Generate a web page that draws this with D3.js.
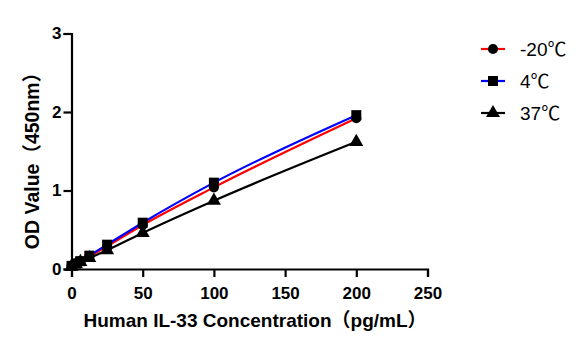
<!DOCTYPE html>
<html><head><meta charset="utf-8">
<script src="https://cdn.jsdelivr.net/npm/d3@7"></script>
<style>body{margin:0;background:#fff}svg{display:block}</style>
</head><body><div id="c"></div>
<script>
const concentrations = [0, 3.125, 6.25, 12.5, 25, 50, 100, 200];
const seriesNames = ["-20℃", "4℃", "37℃"];
const valsNeg20 = [0.04, 0.07, 0.10, 0.16, 0.29, 0.56, 1.04, 1.92];
const vals4 = [0.04, 0.07, 0.10, 0.17, 0.31, 0.59, 1.10, 1.96];
const vals37 = [0.03, 0.06, 0.09, 0.14, 0.24, 0.46, 0.87, 1.62];
const xTicks = [0, 50, 100, 150, 200, 250];
const yTicks = [0, 1, 2, 3];
const lineColors = ["#ff0000", "#0000ff", "#000000"];
const symbols = [d3.symbolCircle, d3.symbolSquare, d3.symbolTriangle];
const symbolSizes = [80, 100, 85];

const W = 582, H = 350;
const svg = d3.select("#c").append("svg").attr("width", W).attr("height", H);
const x = d3.scaleLinear().domain([0, 250]).range([71.5, 427.5]);
const y = d3.scaleLinear().domain([0, 3]).range([269, 33.5]);
const font = "'Liberation Sans', Arial, 'Noto Sans CJK SC', sans-serif";

const series = [valsNeg20, vals4, vals37].map((v, i) => ({
  name: seriesNames[i], color: lineColors[i], sym: symbols[i], size: symbolSizes[i],
  pts: concentrations.map((c, j) => ({c, v: v[j]}))
}));

const line = d3.line().x(d => x(d.c)).y(d => y(d.v)).curve(d3.curveMonotoneX);
// draw order: black, red, blue
[2, 0, 1].forEach(i => {
  svg.append("path").datum(series[i].pts).attr("d", line)
    .attr("fill", "none").attr("stroke", series[i].color).attr("stroke-width", 2.2);
});
[2, 0, 1].forEach(i => {
  const s = series[i];
  svg.append("g").selectAll("path").data(s.pts).join("path")
    .attr("d", d3.symbol().type(s.sym).size(s.size))
    .attr("transform", d => `translate(${x(d.c)},${y(d.v)})`)
    .attr("fill", "#000");
});

// axes
const xAxis = svg.append("g").attr("transform", "translate(0,269)")
  .call(d3.axisBottom(x).tickValues(xTicks).tickSize(8).tickPadding(10).tickFormat(d3.format("d")));
const yAxis = svg.append("g").attr("transform", "translate(71.5,0)")
  .call(d3.axisLeft(y).tickValues(yTicks).tickSize(8).tickPadding(2).tickFormat(d3.format("d")));
[xAxis, yAxis].forEach(g => {
  g.select(".domain").attr("stroke", "#000").attr("stroke-width", 2.2);
  g.selectAll(".tick line").attr("stroke", "#000").attr("stroke-width", 2.2);
  g.selectAll(".tick text").attr("fill", "#000").style("font-family", font)
    .style("font-weight", "bold").style("font-size", "17px");
});

svg.append("text").attr("x", 255).attr("y", 327).attr("text-anchor", "middle")
  .style("font-family", font).style("font-weight", "bold").style("font-size", "19px")
  .text("Human IL-33 Concentration（pg/mL）");
svg.append("text").attr("transform", "translate(39,156) rotate(-90)").attr("text-anchor", "middle")
  .style("font-family", font).style("font-weight", "bold").style("font-size", "19.5px")
  .text("OD Value（450nm）");

// legend
const lg = svg.append("g");
series.forEach((s, i) => {
  const ly = 49 + i * 32;
  lg.append("line").attr("x1", 481).attr("x2", 505).attr("y1", ly).attr("y2", ly)
    .attr("stroke", s.color).attr("stroke-width", 2.2);
  lg.append("path").attr("d", d3.symbol().type(s.sym).size(s.size))
    .attr("transform", `translate(493,${ly})`).attr("fill", "#000");
  lg.append("text").attr("x", 520).attr("y", ly + 7)
    .style("font-family", font).style("font-size", "19px").text(s.name);
});
</script></body></html>
